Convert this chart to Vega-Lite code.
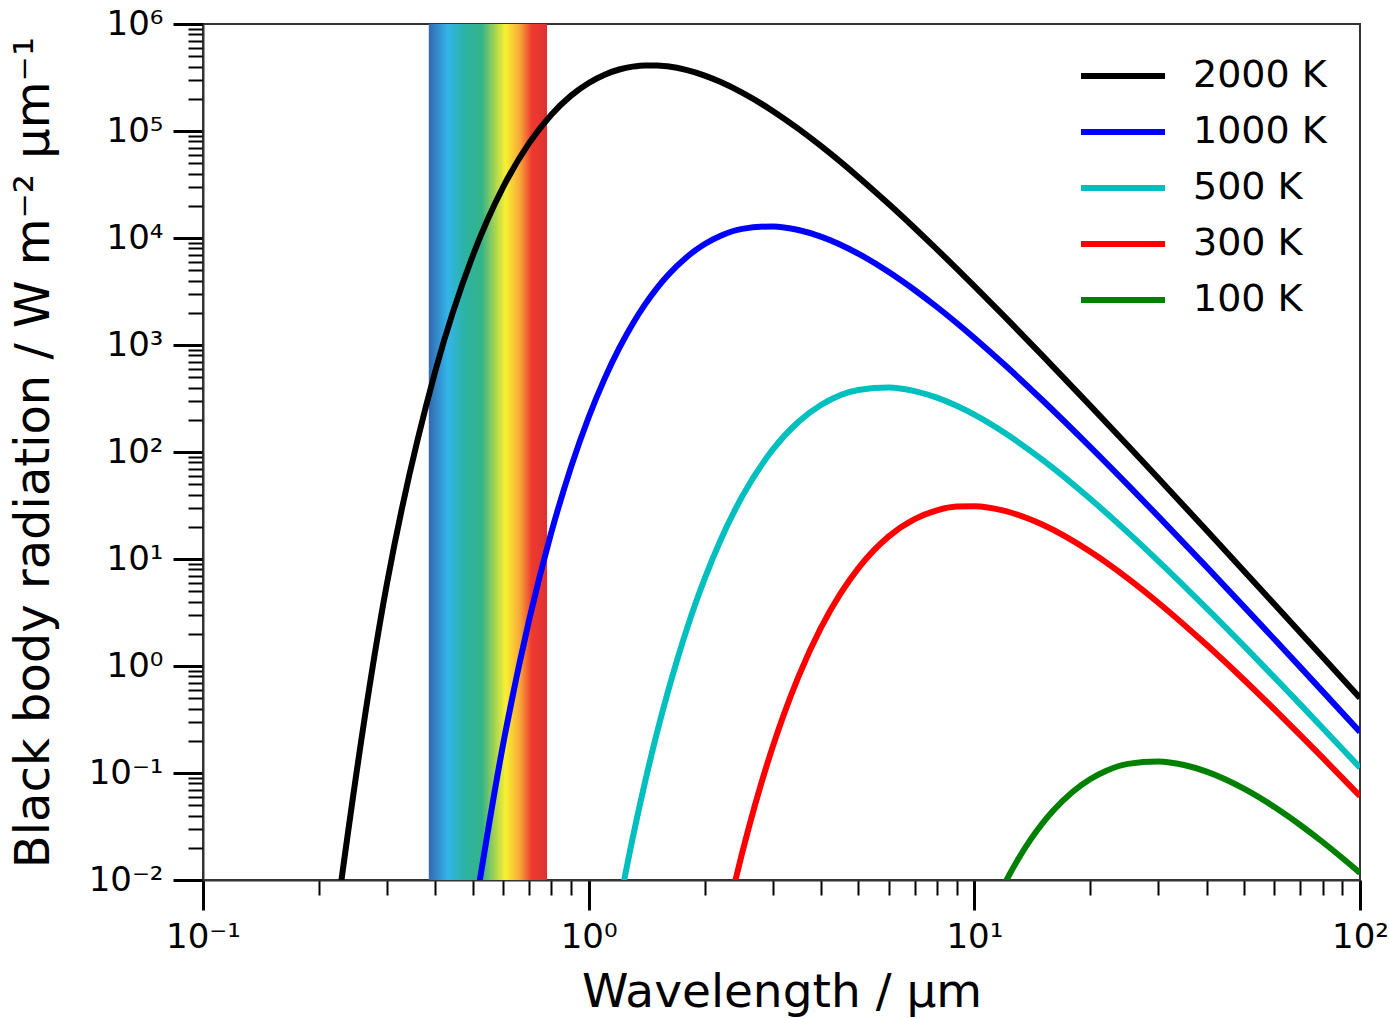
{
"$schema": "https://vega.github.io/schema/vega-lite/v6.json",
"width": 1157,
"height": 856,
"autosize": {"type": "none"},
"padding": {"left": 203, "top": 24, "right": 29, "bottom": 138},
"background": "white",
"config": {
  "font": "DejaVu Sans",
  "view": {"stroke": "#333333", "strokeWidth": 2},
  "axis": {"grid": false, "domainColor": "#333333", "domainWidth": 2, "tickColor": "black", "labelColor": "black", "titleColor": "black", "labelFont": "DejaVu Sans", "titleFont": "DejaVu Sans", "titleFontWeight": "normal"},
  "legend": {"labelFont": "DejaVu Sans", "labelColor": "black"}
},
"datasets": {
  "band": [{"lam": 0.385, "hi": 0.78}],
  "curves": [
    {"lam": 0.2, "M": 0.000279, "T": "2000 K"},
    {"lam": 0.3, "M": 5.93, "T": "2000 K"},
    {"lam": 0.4, "M": 565, "T": "2000 K"},
    {"lam": 0.5, "M": 6755, "T": "2000 K"},
    {"lam": 0.6, "M": 29870, "T": "2000 K"},
    {"lam": 0.7, "M": 76620, "T": "2000 K"},
    {"lam": 0.8, "M": 142000, "T": "2000 K"},
    {"lam": 0.9, "M": 214100, "T": "2000 K"},
    {"lam": 1.0, "M": 281200, "T": "2000 K"},
    {"lam": 1.1, "M": 336100, "T": "2000 K"},
    {"lam": 1.2, "M": 375600, "T": "2000 K"},
    {"lam": 1.3, "M": 399800, "T": "2000 K"},
    {"lam": 1.4, "M": 410500, "T": "2000 K"},
    {"lam": 1.5, "M": 410500, "T": "2000 K"},
    {"lam": 1.6, "M": 402400, "T": "2000 K"},
    {"lam": 1.8, "M": 370700, "T": "2000 K"},
    {"lam": 2.0, "M": 329600, "T": "2000 K"},
    {"lam": 2.2, "M": 286900, "T": "2000 K"},
    {"lam": 2.5, "M": 228500, "T": "2000 K"},
    {"lam": 3.0, "M": 154000, "T": "2000 K"},
    {"lam": 3.5, "M": 104600, "T": "2000 K"},
    {"lam": 4.0, "M": 72500, "T": "2000 K"},
    {"lam": 5, "M": 37240, "T": "2000 K"},
    {"lam": 6, "M": 20770, "T": "2000 K"},
    {"lam": 7, "M": 12405, "T": "2000 K"},
    {"lam": 8, "M": 7834, "T": "2000 K"},
    {"lam": 9, "M": 5176, "T": "2000 K"},
    {"lam": 10, "M": 3553, "T": "2000 K"},
    {"lam": 12, "M": 1831, "T": "2000 K"},
    {"lam": 15, "M": 800.8, "T": "2000 K"},
    {"lam": 20, "M": 270.1, "T": "2000 K"},
    {"lam": 25, "M": 114.9, "T": "2000 K"},
    {"lam": 30, "M": 56.83, "T": "2000 K"},
    {"lam": 40, "M": 18.55, "T": "2000 K"},
    {"lam": 50, "M": 7.739, "T": "2000 K"},
    {"lam": 60, "M": 3.778, "T": "2000 K"},
    {"lam": 70, "M": 2.057, "T": "2000 K"},
    {"lam": 80, "M": 1.214, "T": "2000 K"},
    {"lam": 100, "M": 0.5017, "T": "2000 K"},
    {"lam": 0.5, "M": 0.00381, "T": "1000 K"},
    {"lam": 0.6, "M": 0.1853, "T": "1000 K"},
    {"lam": 0.7, "M": 2.637, "T": "1000 K"},
    {"lam": 0.8, "M": 17.66, "T": "1000 K"},
    {"lam": 0.9, "M": 72.26, "T": "1000 K"},
    {"lam": 1.0, "M": 211.1, "T": "1000 K"},
    {"lam": 1.1, "M": 484.9, "T": "1000 K"},
    {"lam": 1.2, "M": 933.3, "T": "1000 K"},
    {"lam": 1.3, "M": 1573, "T": "1000 K"},
    {"lam": 1.4, "M": 2394, "T": "1000 K"},
    {"lam": 1.5, "M": 3364, "T": "1000 K"},
    {"lam": 1.6, "M": 4438, "T": "1000 K"},
    {"lam": 1.8, "M": 6690, "T": "1000 K"},
    {"lam": 2.0, "M": 8790, "T": "1000 K"},
    {"lam": 2.2, "M": 10500, "T": "1000 K"},
    {"lam": 2.5, "M": 12170, "T": "1000 K"},
    {"lam": 3.0, "M": 12830, "T": "1000 K"},
    {"lam": 3.5, "M": 11876, "T": "1000 K"},
    {"lam": 4.0, "M": 10297, "T": "1000 K"},
    {"lam": 5, "M": 7140, "T": "1000 K"},
    {"lam": 6, "M": 4812, "T": "1000 K"},
    {"lam": 7, "M": 3269, "T": "1000 K"},
    {"lam": 8, "M": 2265, "T": "1000 K"},
    {"lam": 9, "M": 1606, "T": "1000 K"},
    {"lam": 10, "M": 1164, "T": "1000 K"},
    {"lam": 12, "M": 649.2, "T": "1000 K"},
    {"lam": 15, "M": 306.2, "T": "1000 K"},
    {"lam": 20, "M": 111.0, "T": "1000 K"},
    {"lam": 25, "M": 49.25, "T": "1000 K"},
    {"lam": 30, "M": 25.03, "T": "1000 K"},
    {"lam": 40, "M": 8.442, "T": "1000 K"},
    {"lam": 50, "M": 3.592, "T": "1000 K"},
    {"lam": 60, "M": 1.776, "T": "1000 K"},
    {"lam": 70, "M": 0.9757, "T": "1000 K"},
    {"lam": 80, "M": 0.5796, "T": "1000 K"},
    {"lam": 100, "M": 0.2416, "T": "1000 K"},
    {"lam": 1.2, "M": 0.00579, "T": "500 K"},
    {"lam": 1.3, "M": 0.02455, "T": "500 K"},
    {"lam": 1.4, "M": 0.0824, "T": "500 K"},
    {"lam": 1.5, "M": 0.2297, "T": "500 K"},
    {"lam": 1.6, "M": 0.5516, "T": "500 K"},
    {"lam": 1.7, "M": 1.174, "T": "500 K"},
    {"lam": 1.8, "M": 2.259, "T": "500 K"},
    {"lam": 1.9, "M": 3.999, "T": "500 K"},
    {"lam": 2.0, "M": 6.597, "T": "500 K"},
    {"lam": 2.2, "M": 15.15, "T": "500 K"},
    {"lam": 2.5, "M": 38.41, "T": "500 K"},
    {"lam": 3.0, "M": 105.1, "T": "500 K"},
    {"lam": 3.5, "M": 191.5, "T": "500 K"},
    {"lam": 4.0, "M": 274.8, "T": "500 K"},
    {"lam": 5, "M": 380.4, "T": "500 K"},
    {"lam": 6, "M": 401.0, "T": "500 K"},
    {"lam": 7, "M": 371.1, "T": "500 K"},
    {"lam": 8, "M": 321.8, "T": "500 K"},
    {"lam": 9, "M": 270.1, "T": "500 K"},
    {"lam": 10, "M": 223.1, "T": "500 K"},
    {"lam": 12, "M": 150.4, "T": "500 K"},
    {"lam": 15, "M": 84.80, "T": "500 K"},
    {"lam": 20, "M": 36.37, "T": "500 K"},
    {"lam": 25, "M": 17.73, "T": "500 K"},
    {"lam": 30, "M": 9.567, "T": "500 K"},
    {"lam": 40, "M": 3.470, "T": "500 K"},
    {"lam": 50, "M": 1.539, "T": "500 K"},
    {"lam": 60, "M": 0.7819, "T": "500 K"},
    {"lam": 70, "M": 0.4380, "T": "500 K"},
    {"lam": 80, "M": 0.2637, "T": "500 K"},
    {"lam": 100, "M": 0.1122, "T": "500 K"},
    {"lam": 2.3, "M": 0.00511, "T": "300 K"},
    {"lam": 2.4, "M": 0.00985, "T": "300 K"},
    {"lam": 2.5, "M": 0.01786, "T": "300 K"},
    {"lam": 2.6, "M": 0.03070, "T": "300 K"},
    {"lam": 2.7, "M": 0.05034, "T": "300 K"},
    {"lam": 2.8, "M": 0.07915, "T": "300 K"},
    {"lam": 2.9, "M": 0.1199, "T": "300 K"},
    {"lam": 3.0, "M": 0.1756, "T": "300 K"},
    {"lam": 3.2, "M": 0.3454, "T": "300 K"},
    {"lam": 3.5, "M": 0.7972, "T": "300 K"},
    {"lam": 4.0, "M": 2.268, "T": "300 K"},
    {"lam": 4.5, "M": 4.769, "T": "300 K"},
    {"lam": 5, "M": 8.176, "T": "300 K"},
    {"lam": 6, "M": 16.26, "T": "300 K"},
    {"lam": 7, "M": 23.58, "T": "300 K"},
    {"lam": 8, "M": 28.52, "T": "300 K"},
    {"lam": 9, "M": 30.88, "T": "300 K"},
    {"lam": 10, "M": 31.18, "T": "300 K"},
    {"lam": 12, "M": 28.15, "T": "300 K"},
    {"lam": 15, "M": 21.00, "T": "300 K"},
    {"lam": 20, "M": 11.69, "T": "300 K"},
    {"lam": 25, "M": 6.595, "T": "300 K"},
    {"lam": 30, "M": 3.903, "T": "300 K"},
    {"lam": 40, "M": 1.577, "T": "300 K"},
    {"lam": 50, "M": 0.7438, "T": "300 K"},
    {"lam": 60, "M": 0.3932, "T": "300 K"},
    {"lam": 70, "M": 0.2262, "T": "300 K"},
    {"lam": 80, "M": 0.1390, "T": "300 K"},
    {"lam": 100, "M": 0.06081, "T": "300 K"},
    {"lam": 11, "M": 0.00485, "T": "100 K"},
    {"lam": 12, "M": 0.00933, "T": "100 K"},
    {"lam": 13, "M": 0.01573, "T": "100 K"},
    {"lam": 14, "M": 0.02394, "T": "100 K"},
    {"lam": 15, "M": 0.03364, "T": "100 K"},
    {"lam": 16, "M": 0.04437, "T": "100 K"},
    {"lam": 18, "M": 0.06690, "T": "100 K"},
    {"lam": 20, "M": 0.08790, "T": "100 K"},
    {"lam": 22, "M": 0.1050, "T": "100 K"},
    {"lam": 25, "M": 0.1217, "T": "100 K"},
    {"lam": 30, "M": 0.1283, "T": "100 K"},
    {"lam": 35, "M": 0.1188, "T": "100 K"},
    {"lam": 40, "M": 0.1030, "T": "100 K"},
    {"lam": 50, "M": 0.07140, "T": "100 K"},
    {"lam": 60, "M": 0.04812, "T": "100 K"},
    {"lam": 70, "M": 0.03269, "T": "100 K"},
    {"lam": 80, "M": 0.02265, "T": "100 K"},
    {"lam": 90, "M": 0.01606, "T": "100 K"},
    {"lam": 100, "M": 0.01164, "T": "100 K"}
  ]
},
"encoding": {
  "x": {"field": "lam", "type": "quantitative",
    "scale": {"type": "log", "domain": [0.1, 100], "nice": false},
    "axis": {
      "title": "Wavelength / µm", "titleFontSize": 47, "titleX": 578.5, "titleY": 126, "titleBaseline": "alphabetic",
      "values": [0.1,0.2,0.3,0.4,0.5,0.6,0.7,0.8,0.9,1,2,3,4,5,6,7,8,9,10,20,30,40,50,60,70,80,90,100],
      "labelExpr": "datum.value==0.1?'10⁻¹':datum.value==1?'10⁰':datum.value==10?'10¹':datum.value==100?'10²':''",
      "labelFontSize": 34, "labelPadding": 10, "labelFlush": false, "labelOverlap": false,
      "tickSize": {"condition": {"test": "abs(log(datum.value)/LN10 - round(log(datum.value)/LN10)) < 0.001", "value": 30}, "value": 15},
      "tickWidth": {"condition": {"test": "abs(log(datum.value)/LN10 - round(log(datum.value)/LN10)) < 0.001", "value": 3}, "value": 2}
    }
  }
},
"layer": [
  {
    "data": {"name": "band"},
    "mark": {"type": "rect", "fill": {"gradient": "linear", "x1": 0, "y1": 0, "x2": 1, "y2": 0, "stops": [
      {"offset": 0, "color": "#3468b0"},
      {"offset": 0.16, "color": "#33b5ea"},
      {"offset": 0.3, "color": "#2bb3a3"},
      {"offset": 0.45, "color": "#35b488"},
      {"offset": 0.56, "color": "#a8d452"},
      {"offset": 0.65, "color": "#f8f032"},
      {"offset": 0.77, "color": "#f8a838"},
      {"offset": 0.87, "color": "#f03a30"},
      {"offset": 1, "color": "#dc3232"}
    ]}},
    "encoding": {
      "x2": {"field": "hi"}
    }
  },
  {
    "data": {"name": "curves"},
    "mark": {"type": "line", "strokeWidth": 6, "clip": true, "interpolate": "monotone"},
    "encoding": {
      "y": {"field": "M", "type": "quantitative",
        "scale": {"type": "log", "domain": [0.01, 1000000], "nice": false},
        "axis": {
          "title": "Black body radiation / W m⁻² µm⁻¹", "titleFontSize": 48, "titleX": -155, "titleY": 428, "titleBaseline": "alphabetic",
          "values": [0.01,0.02,0.03,0.04,0.05,0.06,0.07,0.08,0.09,0.1,0.2,0.3,0.4,0.5,0.6,0.7,0.8,0.9,1,2,3,4,5,6,7,8,9,10,20,30,40,50,60,70,80,90,100,200,300,400,500,600,700,800,900,1000,2000,3000,4000,5000,6000,7000,8000,9000,10000,20000,30000,40000,50000,60000,70000,80000,90000,100000,200000,300000,400000,500000,600000,700000,800000,900000,1000000],
          "labelExpr": "datum.value==0.01?'10⁻²':datum.value==0.1?'10⁻¹':datum.value==1?'10⁰':datum.value==10?'10¹':datum.value==100?'10²':datum.value==1000?'10³':datum.value==10000?'10⁴':datum.value==100000?'10⁵':datum.value==1000000?'10⁶':''",
          "labelFontSize": 34, "labelPadding": 10, "labelFlush": false, "labelOverlap": false,
          "tickSize": {"condition": {"test": "abs(log(datum.value)/LN10 - round(log(datum.value)/LN10)) < 0.001", "value": 30}, "value": 15},
          "tickWidth": {"condition": {"test": "abs(log(datum.value)/LN10 - round(log(datum.value)/LN10)) < 0.001", "value": 3}, "value": 2}
        }
      },
      "color": {"field": "T", "type": "nominal",
        "scale": {"domain": ["2000 K", "1000 K", "500 K", "300 K", "100 K"], "range": ["#000000", "#0000ff", "#00bfbf", "#ff0000", "#008000"]},
        "legend": {"orient": "none", "legendX": 901, "legendY": 33, "title": null, "symbolType": "M-3,0H3", "symbolSize": 784, "symbolStrokeWidth": 6, "labelFontSize": 38, "labelOffset": 51, "rowPadding": 18}
      }
    }
  }
]
}
